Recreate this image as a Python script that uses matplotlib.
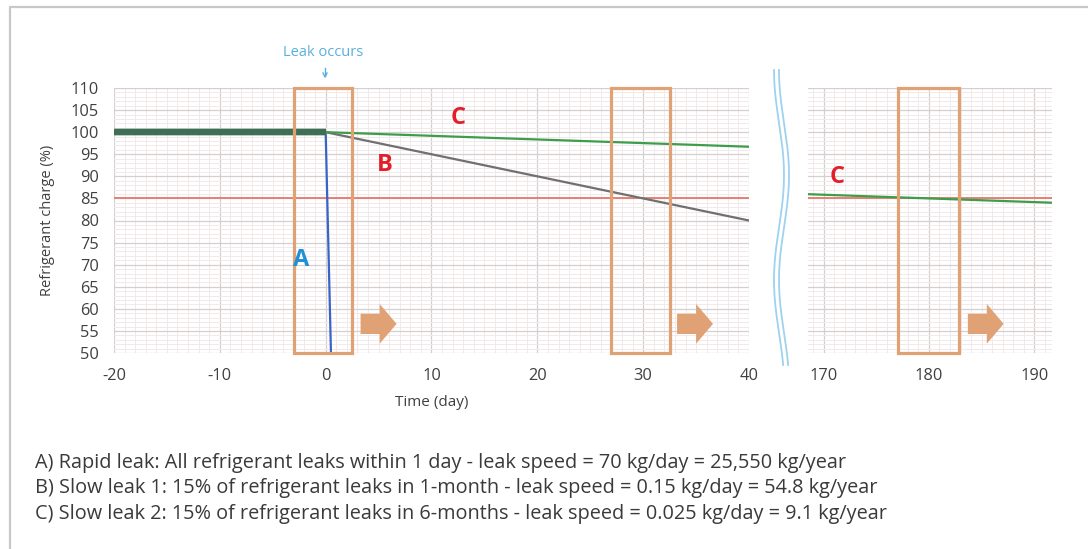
import numpy as np
import matplotlib
matplotlib.use("Agg")
import matplotlib.pyplot as plt
from matplotlib.lines import Line2D
from matplotlib.patches import Rectangle, FancyArrow
from matplotlib.ticker import MultipleLocator

plt.rcParams["axes.unicode_minus"] = False

# ---- data -------------------------------------------------------------
# Refrigerant charge (%) vs time (days); the leak starts at day 0
a_days = [-20, 0, 1]
a_charge = [100, 100, 0]

b_days = [-20, 0, 40]
b_charge = [100, 100, 80]

c_days = [-20, 0, 40, 168, 192]
c_charge = [100, 100, 96.7, 86, 84]

alarm_level = 85  # detection threshold (%)

left_xticks = [-20, -10, 0, 10, 20, 30, 40]
right_xticks = [170, 180, 190]
yticks = list(range(50, 111, 5))

notes = [
    "A) Rapid leak: All refrigerant leaks within 1 day - leak speed = 70 kg/day = 25,550 kg/year",
    "B) Slow leak 1: 15% of refrigerant leaks in 1-month - leak speed = 0.15 kg/day = 54.8 kg/year",
    "C) Slow leak 2: 15% of refrigerant leaks in 6-months - leak speed = 0.025 kg/day = 9.1 kg/year",
]

# ---- styling ----------------------------------------------------------
W, H = 1088, 549
BLUE_LINE = "#3A63C8"
GRAY_LINE = "#707070"
GREEN_LINE = "#3C9E4A"
BAND = "#3E6E56"
RED_LINE = "#E8786C"
ORANGE = "#E0A274"
LABEL_RED = "#E3202A"
LABEL_BLUE = "#1F8FD6"
TEXT = "#3A3A3A"
FONT = ["Open Sans", "DejaVu Sans"]

fig = plt.figure(figsize=(W / 100, H / 100), dpi=100)
fig.patch.set_facecolor("white")


def fx(px):
    return np.asarray(px, float) / W


def fy(py):
    return 1 - np.asarray(py, float) / H


ax1 = fig.add_axes([fx(114), fy(353), (749 - 114) / W, (353 - 88) / H])
ax2 = fig.add_axes([fx(808), fy(353), (1052 - 808) / W, (353 - 88) / H])

ax1.set_xlim(-20, 40)
ax1.set_xticks(left_xticks)
ax2.set_xlim(168.5, 191.7)
ax2.set_xticks(right_xticks)

for ax in (ax1, ax2):
    ax.set_ylim(50, 110)
    ax.set_yticks(yticks)
    ax.yaxis.set_minor_locator(MultipleLocator(1))
    ax.xaxis.set_minor_locator(MultipleLocator(1))
    ax.grid(which="major", color="#D4D0D0", linewidth=0.9)
    ax.grid(which="minor", color="#F2EAEA", linewidth=0.7)
    ax.set_axisbelow(True)
    for s in ax.spines.values():
        s.set_visible(False)
    ax.tick_params(which="both", length=0, labelsize=11.8, labelcolor="#404040", pad=11)
    for lab in ax.get_xticklabels() + ax.get_yticklabels():
        lab.set_family(FONT)
ax2.tick_params(labelleft=False)

ax1.set_xlabel("Time (day)", fontsize=11, color="#404040", family=FONT)
ax1.xaxis.set_label_coords(0.5, -(402 - 353) / 265)
ax1.xaxis.label.set_va("center")
ax1.set_ylabel("Refrigerant charge (%)", fontsize=10.5, color="#404040", family=FONT)
ax1.yaxis.set_label_coords((47 - 114) / 635, 0.5)
ax1.yaxis.label.set_va("center")

# threshold line
for ax in (ax1, ax2):
    ax.axhline(alarm_level, color=RED_LINE, linewidth=1.3, zorder=3)


def split(days, vals):
    """Return (pre-leak, post-leak) parts of a series."""
    d = np.asarray(days, float)
    v = np.asarray(vals, float)
    pre = d <= 0
    post = d >= 0
    return (d[pre], v[pre]), (d[post], v[post])


series = [
    (a_days, a_charge, BLUE_LINE),
    (b_days, b_charge, GRAY_LINE),
    (c_days, c_charge, GREEN_LINE),
]
for days, vals, col in series:
    (d0, v0), (d1, v1) = split(days, vals)
    ax1.plot(d1, v1, color=col, linewidth=1.6, zorder=4)
    ax2.plot(d1, v1, color=col, linewidth=1.6, zorder=4)
    ax1.plot(d0, v0, color=BAND, linewidth=4.5, zorder=5, solid_capstyle="butt")

# highlighted windows and "continues" arrows
windows = [(ax1, -3.0, 2.5, 3.3), (ax1, 27.0, 32.5, 33.2), (ax2, 177.1, 182.9, 183.7)]
for ax, x0, x1, arr_x in windows:
    ax.add_patch(Rectangle((x0, 50), x1 - x0, 60, fill=False, edgecolor=ORANGE,
                           linewidth=2.3, zorder=6, clip_on=False))
    ax.add_patch(FancyArrow(arr_x, 56.6, 3.4, 0, width=4.6, head_width=9.0,
                            head_length=1.6, length_includes_head=True,
                            color=ORANGE, linewidth=0, zorder=6))

# series letters
letters = [(ax1, -2.3, 71, "A", LABEL_BLUE), (ax1, 5.6, 92.6, "B", LABEL_RED),
           (ax1, 12.5, 103.2, "C", LABEL_RED), (ax2, 171.3, 89.9, "C", LABEL_RED)]
for ax, x, y, s, col in letters:
    ax.text(x, y, s, color=col, fontsize=17, fontweight="bold",
            ha="center", va="center", family=FONT, zorder=7)

# leak marker above the chart
fig.text(fx(323), fy(52), "Leak occurs", color="#5AAEE0", fontsize=10.5,
         ha="center", va="center", family=FONT)
fig.add_artist(Line2D(fx([325, 325]), fy([68, 76]), color="#5AAEE0", linewidth=1.0))
fig.add_artist(Line2D(fx([323, 325, 327]), fy([73, 77, 73]), color="#5AAEE0", linewidth=1.0))

# axis break marks between the two panels
yy = np.linspace(70, 365, 200)
for off in (0, 5):
    xx = 779 + off + 5.0 * np.cos(2 * np.pi * (yy - 175) / 210)
    fig.add_artist(Line2D(fx(xx), fy(yy), color="#9ED2EE", linewidth=1.3))

# frame around the figure content
fig.add_artist(Line2D(fx([10, 10, W]), fy([H, 7, 7]), color="#C8C8C8", linewidth=1.6))

# explanatory notes
for i, line in enumerate(notes):
    fig.text(fx(35), fy(463 + 25.5 * i), line, color=TEXT, fontsize=14.3,
             ha="left", va="center", family=FONT)

fig.savefig("out.png", dpi=100, facecolor="white")
